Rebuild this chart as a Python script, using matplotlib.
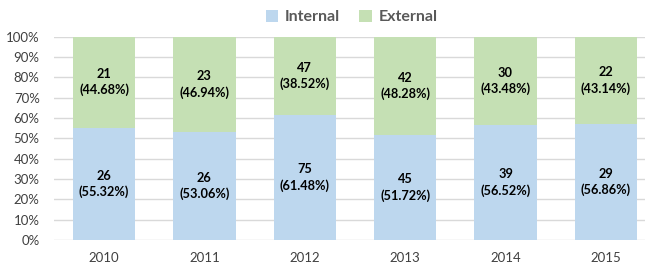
import numpy as np
import matplotlib.pyplot as plt

years = ['2010', '2011', '2012', '2013', '2014', '2015']
internal = [26, 26, 75, 45, 39, 29]
external = [21, 23, 47, 42, 30, 22]

plt.rcParams['font.family'] = ['Lato', 'DejaVu Sans']

tot = np.array(internal) + np.array(external)
int_pct = np.array(internal) / tot * 100
ext_pct = np.array(external) / tot * 100

fig = plt.figure(figsize=(6.45, 2.77), dpi=100)
ax = fig.add_axes([0.083, 0.1336, 0.917, 0.7339])

x = np.arange(len(years))
b1 = ax.bar(x, int_pct, width=0.62, color='#BDD7EE', label='Internal', zorder=2)
b2 = ax.bar(x, ext_pct, width=0.62, bottom=int_pct, color='#C5E0B4', label='External', zorder=2)

# labels in the middle of each segment
for i in range(len(years)):
    ax.text(x[i], int_pct[i] / 2, '%d\n(%.2f%%)' % (internal[i], int_pct[i]),
            ha='center', va='center', fontsize=9.2, fontweight='bold', linespacing=1.35)
    ax.text(x[i], int_pct[i] + ext_pct[i] / 2, '%d\n(%.2f%%)' % (external[i], ext_pct[i]),
            ha='center', va='center', fontsize=9.2, fontweight='bold', linespacing=1.35)

ax.set_ylim(0, 100)
ax.set_xlim(-0.503, 5.39)
ax.set_yticks(np.arange(0, 101, 10))
ax.set_yticklabels(['%d%%' % v for v in range(0, 101, 10)])
ax.set_xticks(x)
ax.set_xticklabels(years)
ax.tick_params(axis='y', length=0, pad=10, labelsize=9.5, labelcolor='#404040')
ax.tick_params(axis='x', length=0, pad=9, labelsize=9.5, labelcolor='#404040')
ax.yaxis.grid(True, color='#D9D9D9', linewidth=1, zorder=0)
for s in ax.spines.values():
    s.set_visible(False)

leg = fig.legend(handles=[b1, b2], loc='center', bbox_to_anchor=(0.545, 0.939), ncol=2,
                 frameon=False, handlelength=0.8, handleheight=0.8, handletextpad=0.4,
                 columnspacing=1.2, prop={'size': 11.5, 'weight': 'bold'})
for t in leg.get_texts():
    t.set_color('#595959')

fig.savefig('out.png', dpi=100)
